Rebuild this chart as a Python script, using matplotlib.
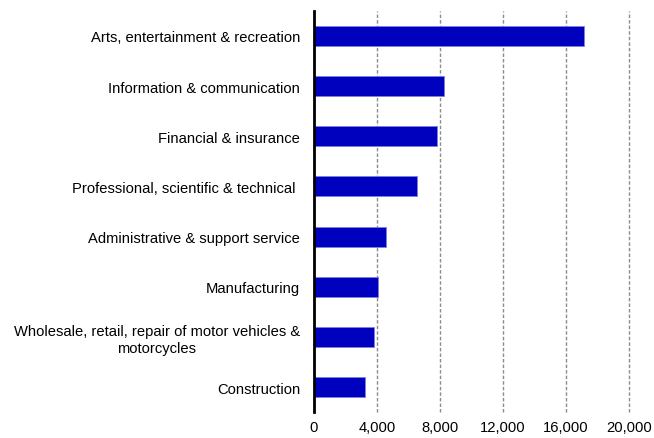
import matplotlib.pyplot as plt
import numpy as np

plt.rcParams['font.family'] = ['Liberation Sans', 'DejaVu Sans']

sectors = [
    'Arts, entertainment & recreation',
    'Information & communication',
    'Financial & insurance',
    'Professional, scientific & technical ',
    'Administrative & support service',
    'Manufacturing',
    'Wholesale, retail, repair of motor vehicles &\nmotorcycles',
    'Construction',
]
values = [17150, 8250, 7800, 6550, 4570, 4060, 3830, 3220]
x_ticks = [0, 4000, 8000, 12000, 16000, 20000]

fig = plt.figure(figsize=(6.54, 4.39), dpi=100)
ax = fig.add_axes([0.480, 0.059, 0.482, 0.914])

y = np.arange(len(sectors))
ax.barh(y, values, height=0.4, color='#0000BF', edgecolor='#8080E0', linewidth=0.6, zorder=3)
ax.set_ylim(len(sectors) - 0.5, -0.5)
ax.set_xlim(0, 20000)

ax.set_yticks(y)
ax.set_yticklabels(sectors, fontsize=10.6, multialignment='center')
ax.set_xticks(x_ticks)
ax.set_xticklabels([f'{t:,}' for t in x_ticks], fontsize=10.6)
ax.tick_params(axis='y', length=0, pad=10)
ax.tick_params(axis='x', length=0, pad=6)

ax.xaxis.grid(True, linestyle=(0, (2.5, 1.5)), color='#8c8c8c', linewidth=1, zorder=0)
for gl in ax.get_xgridlines():
    gl.set_clip_on(False)
for s in ['top', 'right', 'bottom']:
    ax.spines[s].set_visible(False)
ax.spines['left'].set_linewidth(2)
ax.spines['left'].set_zorder(4)

plt.savefig('out.png', dpi=100)
